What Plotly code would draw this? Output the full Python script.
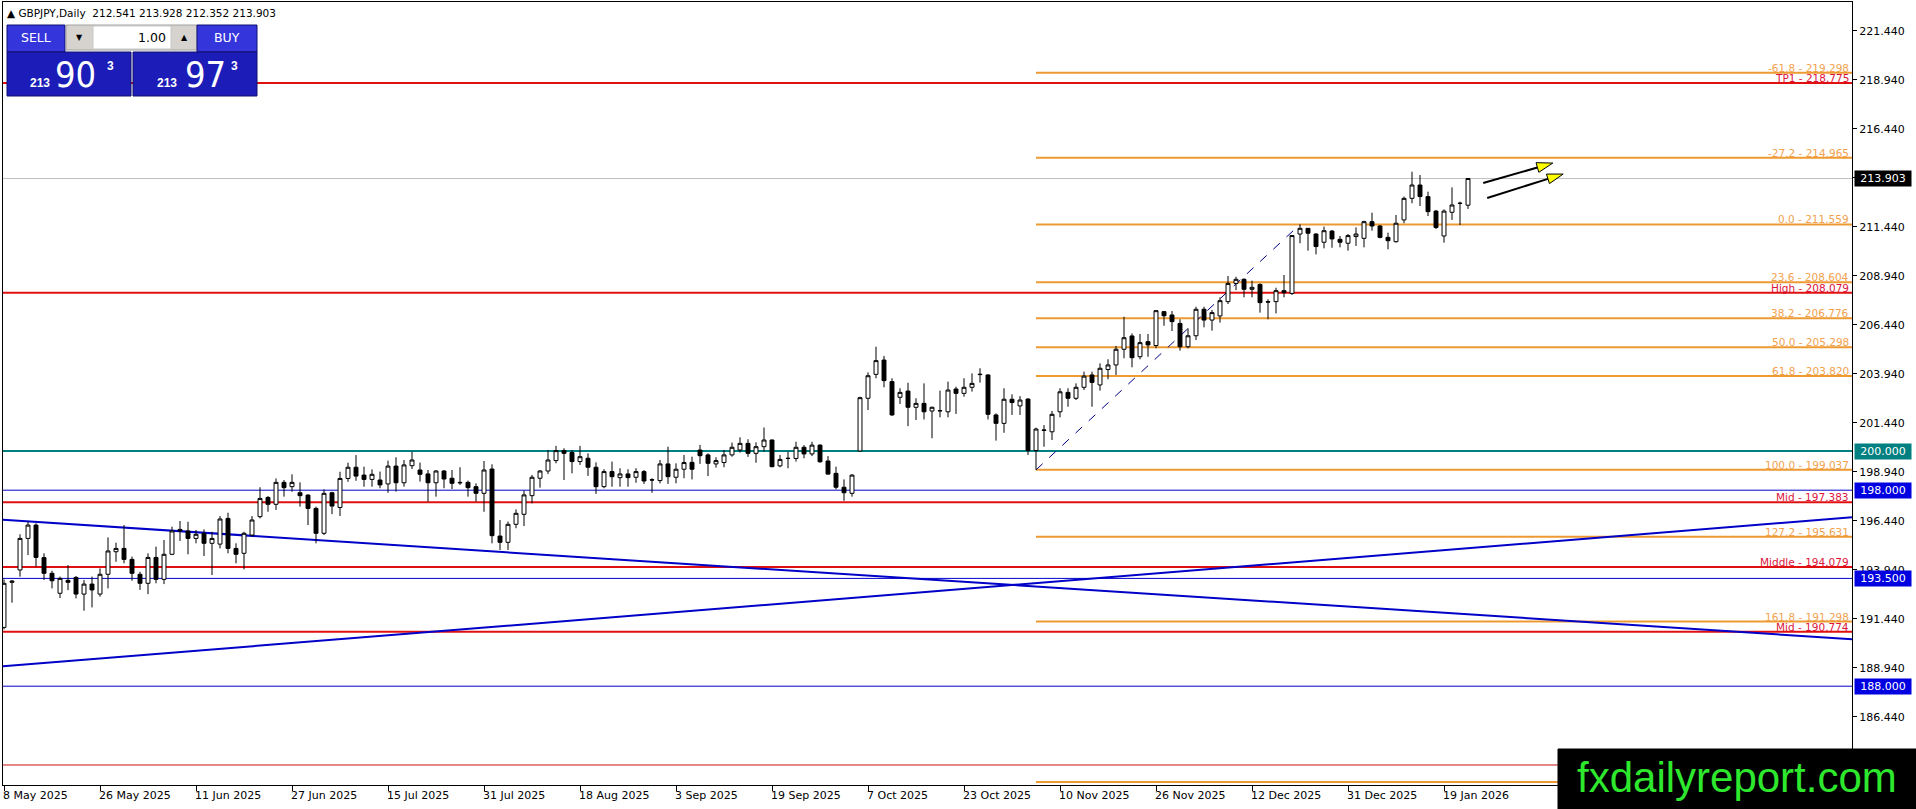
import math
import plotly.graph_objects as go

# GBPJPY daily bars, bar 0 = 8 May 2025
OPEN = [191.00, 193.30, 193.93, 195.54, 196.22, 194.56, 193.76, 192.74, 193.40, 193.55,
        192.70, 193.21, 192.70, 193.71, 194.86, 195.03, 194.47, 193.71, 193.25, 194.57,
        193.45, 194.73, 196.00, 195.92, 195.54, 195.80, 195.29, 195.25, 196.56, 195.03,
        194.78, 195.71, 196.65, 197.63, 197.28, 198.40, 198.18, 197.87, 197.75, 197.07,
        195.80, 197.87, 197.12, 198.60, 199.17, 198.77, 198.55, 198.52, 198.32, 199.23,
        198.38, 199.25, 199.03, 198.83, 198.38, 198.98, 198.61, 198.40, 198.40, 198.18,
        197.84, 199.08, 195.66, 195.34, 196.26, 196.77, 197.72, 198.61, 198.98, 199.51,
        200.02, 199.92, 199.46, 199.63, 199.17, 198.18, 198.95, 198.64, 198.83, 198.66,
        198.95, 198.53, 198.49, 199.34, 198.66, 199.07, 199.42, 200.05, 199.80, 199.34,
        199.41, 199.80, 200.05, 200.39, 199.88, 200.22, 200.56, 199.24, 199.63, 199.62,
        200.19, 199.85, 200.30, 199.49, 198.86, 198.15, 197.84, 200.00, 202.69, 203.91,
        204.64, 203.54, 202.74, 203.06, 202.23, 202.43, 202.04, 202.06, 202.00, 203.16,
        202.94, 203.25, 203.92, 203.88, 201.84, 201.41, 202.64, 202.30, 202.65, 200.02,
        201.05, 200.98, 202.00, 202.99, 202.69, 203.25, 203.88, 203.37, 204.16, 204.39,
        205.19, 205.87, 204.81, 205.58, 205.38, 207.11, 206.94, 206.51, 205.32, 205.88,
        207.23, 206.68, 206.89, 207.62, 208.55, 208.76, 208.25, 208.50, 207.62, 207.62,
        208.18, 208.04, 211.07, 211.36, 211.07, 210.65, 211.22, 210.80, 210.60, 210.94,
        210.85, 211.70, 211.48, 210.90, 210.68, 211.79, 212.89, 213.57, 212.98, 212.24,
        210.97, 212.18, 212.63, 212.541]
HIGH = [193.45, 193.42, 195.75, 196.39, 196.31, 194.78, 193.89, 193.59, 194.18, 193.62,
        193.42, 193.59, 194.01, 195.59, 195.32, 196.22, 194.61, 193.84, 194.78, 195.12,
        195.46, 196.14, 196.43, 196.39, 195.97, 196.00, 195.88, 196.68, 196.85, 195.29,
        195.88, 196.68, 198.15, 197.70, 198.60, 198.52, 198.81, 198.40, 197.79, 197.16,
        198.04, 197.92, 198.94, 199.40, 199.79, 199.20, 199.06, 198.95, 199.51, 199.68,
        199.54, 199.97, 199.41, 199.03, 199.03, 199.03, 199.03, 199.17, 198.49, 198.35,
        199.49, 199.32, 196.48, 196.40, 197.02, 197.98, 198.78, 199.03, 200.05, 200.26,
        200.14, 200.05, 200.26, 199.88, 199.42, 199.07, 199.46, 199.12, 199.07, 199.12,
        199.03, 198.61, 199.54, 200.22, 199.37, 199.80, 199.71, 200.31, 199.88, 199.68,
        200.05, 200.43, 200.70, 200.60, 200.44, 201.20, 200.59, 199.80, 199.97, 200.47,
        200.30, 200.47, 200.34, 199.74, 199.20, 198.55, 198.82, 202.77, 204.01, 205.32,
        204.85, 203.71, 203.20, 203.48, 202.69, 203.45, 202.26, 203.08, 203.54, 203.28,
        203.71, 203.96, 204.22, 203.91, 201.92, 203.20, 202.89, 202.80, 202.69, 201.19,
        201.32, 202.04, 203.20, 203.20, 203.45, 204.05, 204.05, 204.47, 204.68, 205.36,
        206.85, 206.00, 205.97, 205.97, 207.19, 207.14, 207.14, 206.72, 206.26, 207.36,
        207.36, 207.19, 207.84, 208.93, 208.89, 208.81, 208.69, 208.55, 207.74, 208.33,
        208.98, 211.02, 211.559, 211.36, 211.11, 211.45, 211.28, 210.97, 211.07, 211.41,
        211.75, 212.16, 211.53, 211.14, 212.04, 212.98, 214.25, 214.08, 213.23, 212.30,
        212.33, 213.45, 212.72, 213.928]
LOW = [190.90, 192.26, 193.59, 194.69, 194.10, 193.42, 192.99, 192.50, 192.90, 192.48,
       191.85, 192.02, 192.57, 192.99, 194.35, 194.27, 193.38, 192.91, 192.70, 193.25,
       193.21, 194.69, 195.41, 194.73, 195.29, 194.64, 193.67, 195.03, 194.78, 194.27,
       193.96, 195.63, 196.56, 196.90, 196.99, 197.67, 197.92, 197.16, 196.22, 195.29,
       195.71, 196.78, 196.68, 198.43, 198.48, 198.18, 198.18, 198.10, 197.87, 197.93,
       198.18, 199.08, 198.44, 197.42, 197.67, 198.10, 198.06, 198.27, 197.67, 197.42,
       196.90, 195.29, 194.95, 194.95, 196.06, 196.17, 197.33, 198.13, 198.83, 199.37,
       198.52, 198.86, 199.29, 198.73, 197.81, 198.10, 198.18, 198.18, 198.18, 198.38,
       198.32, 197.87, 198.35, 198.32, 198.35, 198.61, 198.55, 199.34, 198.72, 199.15,
       199.17, 199.71, 199.92, 199.70, 199.40, 199.97, 199.17, 199.17, 199.12, 199.46,
       199.63, 199.74, 199.40, 198.80, 198.04, 197.46, 197.67, 199.97, 202.09, 203.71,
       203.25, 201.79, 202.40, 201.27, 201.58, 201.61, 200.65, 201.72, 201.72, 201.89,
       202.77, 203.03, 203.49, 201.61, 200.53, 200.93, 201.84, 201.84, 199.80, 199.037,
       200.22, 200.56, 201.72, 202.26, 202.60, 203.11, 202.26, 203.08, 203.66, 203.88,
       204.73, 204.27, 204.68, 204.81, 205.24, 206.39, 206.12, 205.12, 205.24, 205.66,
       206.31, 206.14, 206.55, 207.50, 208.21, 207.84, 207.84, 207.06, 206.72, 207.02,
       207.84, 207.96, 210.60, 210.22, 210.03, 210.34, 210.37, 210.39, 210.22, 210.46,
       210.39, 211.24, 210.85, 210.29, 210.63, 211.62, 212.64, 212.50, 211.99, 211.33,
       210.63, 211.79, 211.53, 212.352]
CLOSE = [193.25, 193.36, 195.54, 196.22, 194.57, 193.76, 193.38, 193.50, 193.30, 192.70,
         193.21, 192.91, 193.71, 194.90, 195.03, 194.47, 193.76, 193.25, 194.57, 193.45,
         194.73, 195.92, 195.92, 195.54, 195.75, 195.29, 195.54, 196.53, 195.03, 194.73,
         195.80, 196.48, 197.58, 197.28, 198.40, 198.13, 198.40, 197.72, 197.07, 195.80,
         197.84, 197.19, 198.60, 199.17, 198.72, 198.55, 198.81, 198.27, 199.23, 198.38,
         199.29, 199.54, 198.81, 198.38, 198.98, 198.57, 198.35, 198.38, 198.13, 197.84,
         199.03, 195.68, 195.34, 196.26, 196.82, 197.76, 198.66, 198.98, 199.54, 200.02,
         199.88, 199.46, 199.71, 199.17, 198.18, 198.95, 198.69, 198.83, 198.64, 198.95,
         198.47, 198.52, 199.34, 198.69, 199.07, 199.41, 199.07, 199.76, 199.37, 199.51,
         199.80, 200.19, 200.39, 199.88, 200.22, 200.56, 199.20, 199.57, 199.62, 200.19,
         199.85, 200.30, 199.45, 198.82, 198.15, 197.87, 198.77, 202.72, 203.84, 204.61,
         203.59, 201.84, 202.99, 202.23, 202.43, 202.00, 202.23, 202.05, 203.11, 202.94,
         203.25, 203.45, 203.90, 201.87, 201.41, 202.64, 202.47, 202.60, 200.02, 201.12,
         201.07, 201.87, 203.02, 202.69, 203.25, 203.82, 203.50, 204.22, 204.39, 205.19,
         205.78, 204.76, 205.53, 205.41, 207.16, 206.90, 206.60, 205.32, 205.88, 207.23,
         206.68, 207.06, 207.67, 208.55, 208.76, 208.25, 208.35, 207.57, 207.60, 208.18,
         208.08, 210.99, 211.36, 211.11, 210.43, 211.24, 210.82, 210.65, 210.99, 211.07,
         211.70, 211.48, 210.90, 210.73, 211.62, 212.89, 213.57, 212.98, 212.21, 211.40,
         212.24, 212.55, 212.64, 213.903]

DATE_LABELS = ["8 May 2025", "26 May 2025", "11 Jun 2025", "27 Jun 2025", "15 Jul 2025",
               "31 Jul 2025", "18 Aug 2025", "3 Sep 2025", "19 Sep 2025", "7 Oct 2025",
               "23 Oct 2025", "10 Nov 2025", "26 Nov 2025", "12 Dec 2025", "31 Dec 2025",
               "19 Jan 2026"]
LABEL_STEP = 12
Y_TICKS = [186.44, 188.94, 191.44, 193.94, 196.44, 198.94, 201.44, 203.94, 206.44,
           208.94, 211.44, 213.94, 216.44, 218.94, 221.44]

# fibonacci drawn from the 199.037 low (bar 129) to the 211.559 high (bar 162)
FIB_PCT = ["-61.8", "-27.2", "0.0", "23.6", "38.2", "50.0", "61.8", "100.0", "127.2", "161.8", "227.2"]
FIB_PRICE = [219.298, 214.965, 211.559, 208.604, 206.776, 205.298, 203.820, 199.037, 195.631, 191.298, 183.109]
FIB_BARS = [129, 162]

RED_NAMES = ["TP1", "High", "Mid", "Middle", "Mid"]
RED_PRICES = [218.775, 208.079, 197.383, 194.079, 190.774]
RED_THIN = 183.98
BLUE_LEVELS = [198.000, 193.500, 188.000]
ROUND_LEVEL = 200.000
LAST_PRICE = 213.903

TREND_X = [-0.5, 231]
TREND_DOWN = [196.5, 190.4]
TREND_UP = [189.0, 196.62]

ARROW_TAIL = [(184.9, 213.67), (185.4, 212.91)]
ARROW_TIP = [(193.6, 214.69), (194.9, 214.13)]

X_RANGE = [-0.125, 231]
Y_RANGE = [182.959, 222.908]

FONT = "DejaVu Sans, Verdana, sans-serif"
ORANGE = "#EE9A33"
ORANGE_TXT = "#F2A24E"
RED = "#E01010"
CRIMSON = "#DC143C"
BLUE = "#0000CC"
TEAL = "#008080"

# page geometry (pixels) used for the decorations outside the data
L, T, W, H = 3, 2, 1849, 783


def px(x):
    return (x - L) / W


def py(y):
    return 1 - (y - T) / H


def bar_px(i, p):
    return L + (i - X_RANGE[0]) / (X_RANGE[1] - X_RANGE[0]) * W, T + (Y_RANGE[1] - p) / (Y_RANGE[1] - Y_RANGE[0]) * H


def px_bar(x, y):
    return X_RANGE[0] + (x - L) / W * (X_RANGE[1] - X_RANGE[0]), Y_RANGE[1] - (y - T) / H * (Y_RANGE[1] - Y_RANGE[0])


fig = go.Figure(
    go.Candlestick(
        x=list(range(len(OPEN))),
        open=OPEN, high=HIGH, low=LOW, close=CLOSE,
        increasing=dict(line=dict(color="black", width=1), fillcolor="white"),
        decreasing=dict(line=dict(color="black", width=1), fillcolor="black"),
        whiskerwidth=0,
        showlegend=False,
        hoverinfo="skip",
    )
)

shapes = []
annotations = []


def hline(y, color, width, x0=0, x1=1, xref="paper", dash="solid"):
    shapes.append(dict(type="line", xref=xref, yref="y", x0=x0, x1=x1, y0=y, y1=y,
                       line=dict(color=color, width=width, dash=dash), layer="below"))


def line_label(y, text, color):
    annotations.append(dict(xref="paper", x=1, xanchor="right", xshift=-1, yref="y", y=y,
                            yanchor="bottom", yshift=-3, text=text, showarrow=False,
                            font=dict(family=FONT, size=10.5, color=color)))


def axis_box(y, text, bg):
    annotations.append(dict(xref="paper", x=1, xanchor="left", xshift=2, yref="y", y=y,
                            yanchor="middle", text=text, showarrow=False, bgcolor=bg,
                            width=54, height=13, borderpad=1, align="center",
                            font=dict(family=FONT, size=11, color="white")))


# horizontal levels
hline(LAST_PRICE, "#C0C0C0", 1)
hline(ROUND_LEVEL, TEAL, 2)
for lvl in BLUE_LEVELS:
    hline(lvl, BLUE, 1)
hline(RED_THIN, "#C81010", 1)
for pct, price in zip(FIB_PCT, FIB_PRICE):
    hline(price, ORANGE, 2, x0=FIB_BARS[0], x1=X_RANGE[1], xref="x")
for name, price in zip(RED_NAMES, RED_PRICES):
    hline(price, RED, 2)

# trend lines and fib diagonal
for ys in (TREND_DOWN, TREND_UP):
    shapes.append(dict(type="line", xref="x", yref="y", x0=TREND_X[0], x1=TREND_X[1], y0=ys[0], y1=ys[1],
                       line=dict(color="#0000C8", width=2), layer="below"))
shapes.append(dict(type="line", xref="x", yref="y", x0=FIB_BARS[0], x1=FIB_BARS[1],
                   y0=FIB_PRICE[7], y1=FIB_PRICE[2], line=dict(color="#000080", width=1, dash="dash"),
                   layer="below"))

# arrows: black shaft with yellow head
for tail, tip in zip(ARROW_TAIL, ARROW_TIP):
    sx, sy = bar_px(*tail)
    tx, ty = bar_px(*tip)
    d = math.hypot(tx - sx, ty - sy)
    ux, uy = (tx - sx) / d, (ty - sy) / d
    bx, by = tx - 16 * ux, ty - 16 * uy
    pts = [(tx, ty), (bx - 5 * uy, by + 5 * ux), (bx + 5 * uy, by - 5 * ux)]
    b0 = px_bar(bx, by)
    shapes.append(dict(type="line", xref="x", yref="y", x0=tail[0], y0=tail[1], x1=b0[0], y1=b0[1],
                       line=dict(color="black", width=2), layer="above"))
    path = "M " + " L ".join("%f,%f" % px_bar(x, y) for x, y in pts) + " Z"
    shapes.append(dict(type="path", xref="x", yref="y", path=path, fillcolor="#FFFF00",
                       line=dict(color="black", width=1), layer="above"))

# level labels
for pct, price in zip(FIB_PCT, FIB_PRICE):
    if price > 185:
        line_label(price, "%s - %.3f" % (pct, price), ORANGE_TXT)
for name, price in zip(RED_NAMES, RED_PRICES):
    line_label(price, "%s - %.3f" % (name, price), CRIMSON)

axis_box(LAST_PRICE, "%.3f" % LAST_PRICE, "black")
axis_box(ROUND_LEVEL, "%.3f" % ROUND_LEVEL, TEAL)
for lvl in BLUE_LEVELS:
    axis_box(lvl, "%.3f" % lvl, "#0000E0")

# date labels start at their tick like in MT4
for k, lab in enumerate(DATE_LABELS):
    annotations.append(dict(xref="x", x=k * LABEL_STEP, yref="paper", y=0, xanchor="left", yanchor="top",
                            xshift=-3, yshift=-2, text=lab, showarrow=False,
                            font=dict(family=FONT, size=11, color="black")))

# header line
annotations.append(dict(xref="paper", yref="paper", x=px(5), y=py(13), xanchor="left", yanchor="middle",
                        text="▲ GBPJPY,Daily  212.541 213.928 212.352 213.903", showarrow=False,
                        font=dict(family=FONT, size=10.5, color="black")))


def rect(x0, y0, x1, y1, fill, line="#101070"):
    shapes.append(dict(type="rect", xref="paper", yref="paper", x0=px(x0), x1=px(x1), y0=py(y1), y1=py(y0),
                       fillcolor=fill, line=dict(color=line, width=1), layer="above"))


def label(x, y, text, size, color="white", family=FONT, anchor="center"):
    annotations.append(dict(xref="paper", yref="paper", x=px(x), y=py(y), xanchor=anchor, yanchor="middle",
                            text=text, showarrow=False, font=dict(family=family, size=size, color=color)))


# one-click trading panel
rect(7, 25, 65, 52, "#3535DC")
rect(66, 25, 197, 50, "#D6D3CE", "#A0A0A0")
rect(93, 26, 171, 49, "white", "#C8C8C8")
rect(197, 25, 257, 52, "#3535DC")
rect(7, 52, 131, 96, "#1C1CB8")
rect(133, 52, 257, 96, "#1C1CB8")
label(36, 38, "SELL", 12.5)
label(227, 38, "BUY", 12.5)
label(79, 38, "▼", 8, "black")
label(184, 38, "▲", 8, "black")
label(168, 37, "1.00", 12.5, "black", anchor="right")
NARROW = "Liberation Sans Narrow, DejaVu Sans Condensed, Liberation Sans, Arial"
BOLD = "Liberation Sans, Arial"
label(40, 83, "<b>213</b>", 12, family=BOLD)
label(75, 74, "90", 36, family=NARROW)
label(110, 66, "<b>3</b>", 12, family=BOLD)
label(167, 83, "<b>213</b>", 12, family=BOLD)
label(205, 74, "97", 36, family=NARROW)
label(235, 66, "<b>3</b>", 12, family=BOLD)

# watermark
rect(1558, 749, 1916, 809, "black", "black")
label(1737, 777, "fxdailyreport.com", 42, "#2EE82E", family="Liberation Sans, Arial")

fig.update_layout(
    width=1916,
    height=809,
    margin=dict(l=L, r=1916 - L - W, t=T, b=809 - T - H),
    paper_bgcolor="white",
    plot_bgcolor="white",
    shapes=shapes,
    annotations=annotations,
    xaxis=dict(range=X_RANGE, rangeslider=dict(visible=False), showgrid=False, zeroline=False,
               tickvals=[k * LABEL_STEP for k in range(len(DATE_LABELS))], showticklabels=False,
               ticks="outside", ticklen=5, tickcolor="black", showline=True, linecolor="black",
               linewidth=1, mirror=True, automargin=False, fixedrange=True),
    yaxis=dict(range=Y_RANGE, side="right", showgrid=False, zeroline=False, tickvals=Y_TICKS,
               tickformat=".3f", ticks="outside", ticklen=4, tickcolor="black",
               tickfont=dict(family=FONT, size=11, color="black"), showline=True, linecolor="black",
               linewidth=1, mirror=True, automargin=False, fixedrange=True),
    hovermode=False,
)

fig.write_html("out.html", config={"displayModeBar": False},
               post_script="document.body.style.margin='0';document.body.style.overflow='hidden';")
